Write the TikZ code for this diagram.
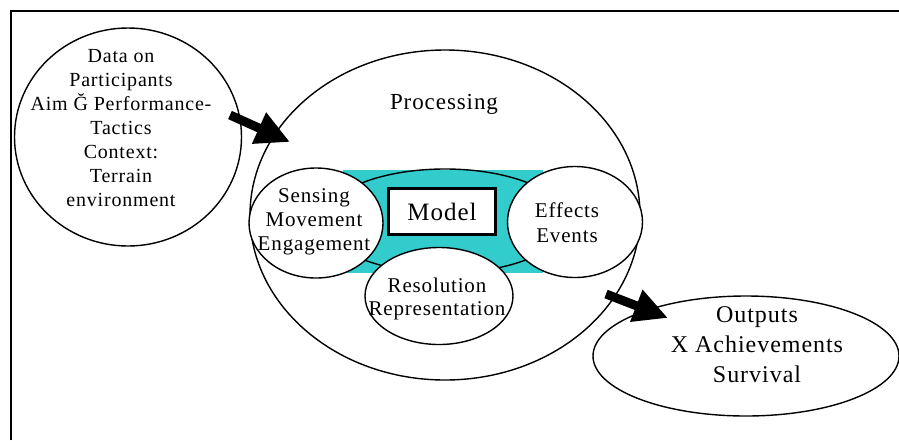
\documentclass[tikz,border=0pt]{standalone}
\usepackage{fontspec}
\setmainfont{Liberation Serif}[LetterSpace=4]
\usetikzlibrary{arrows.meta,shapes.geometric}
\definecolor{engine}{RGB}{51,204,204}
\begin{document}
\begin{tikzpicture}[x=1pt,y=-1pt,
  outline/.style={line width=1.4pt},
  blob/.style={ellipse, draw, outline, fill=white, inner sep=0pt},
  txt/.style={align=center, inner sep=0pt, font=\fontsize{20}{24}\selectfont},
  bigarrow/.style={line width=9pt, -{Triangle[length=34pt,width=32pt]}},
]
\useasboundingbox (0,0) rectangle (899,440);
% frame
\draw[line width=2.2pt] (11,440) -- (11,11) -- (899,11);

% input data
\node[blob, minimum width=227, minimum height=218] (data) at (128,137) {};
\node[txt] (datatxt) at (121,128)
  {Data on\\Participants\\Aim Ğ Performance-\\Tactics\\Context:\\Terrain\\environment};

% processing
\node[blob, minimum width=390, minimum height=330] (proc) at (445,215) {};
\node[txt, font=\fontsize{23}{27}\selectfont] (proctxt) at (444,104) {Processing};

% model engine
\node[fill=engine, minimum width=200, minimum height=103, inner sep=0pt] (band) at (443,221.5) {};
\node[ellipse, draw, outline, minimum width=244, minimum height=104, inner sep=0pt] (core) at (445,221) {};
\node[blob, minimum width=134, minimum height=110] (sense) at (316,223) {};
\node[blob, minimum width=135, minimum height=111] (effect) at (575,222) {};
\node[blob, minimum width=148, minimum height=97] (resol) at (439,296) {};
\node[draw, line width=3pt, fill=white, minimum width=107, minimum height=46, inner sep=0pt,
      font=\fontsize{25}{29}\selectfont] (model) at (442,211.5) {Model};

\node[txt, font=\fontsize{21}{24}\selectfont] (sensetxt) at (314,221.5) {Sensing\\Movement\\Engagement};
\node[txt, font=\fontsize{21}{25}\selectfont] (effecttxt) at (567,223) {Effects\\Events};
\node[txt, font=\fontsize{21}{23}\selectfont] (resoltxt) at (437,299) {Resolution\\Representation};

% outputs
\node[blob, minimum width=306, minimum height=120] (out) at (746,356) {};
\node[txt, font=\fontsize{24}{30}\selectfont] (outtxt) at (757,345) {Outputs\\X Achievements\\Survival};

% flow arrows
\coordinate (inFrom) at (230,115);
\coordinate (inTo) at (290,142);
\coordinate (outFrom) at (606,294);
\coordinate (outTo) at (668,318);
\draw[bigarrow] (inFrom) -- (inTo);
\draw[bigarrow] (outFrom) -- (outTo);
\end{tikzpicture}
\end{document}
